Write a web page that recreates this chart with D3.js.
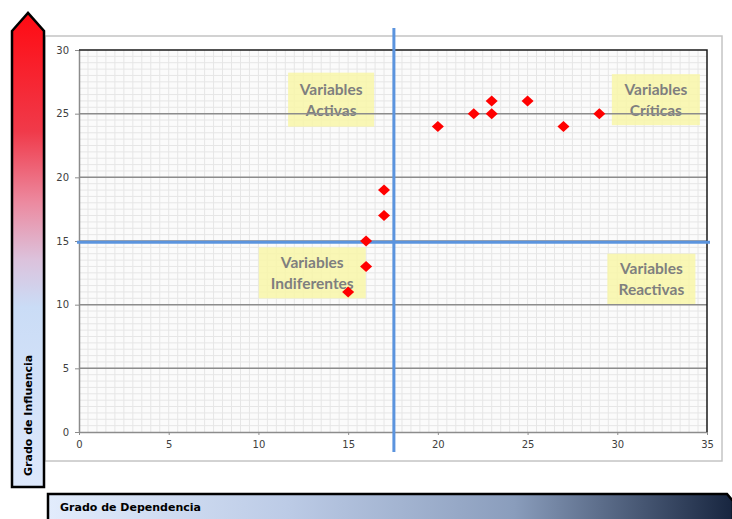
<!DOCTYPE html>
<html>
<head>
<meta charset="utf-8">
<script src="https://cdn.jsdelivr.net/npm/d3@7"></script>
<style>
  body { margin: 0; background: #fff; }
  svg { display: block; }
</style>
</head>
<body>
<div id="chart"></div>
<script>
// datos: grado de dependencia (x) / grado de influencia (y)
var dependencia = [15, 16, 16, 17, 17, 20, 22, 23, 23, 25, 27, 29];
var influencia  = [11, 13, 15, 17, 19, 24, 25, 25, 26, 26, 24, 25];
var xTicks = [0, 5, 10, 15, 20, 25, 30, 35];
var yTicks = [0, 5, 10, 15, 20, 25, 30];
var quadrantNames = [["Variables", "Activas"], ["Variables", "Críticas"],
                     ["Variables", "Indiferentes"], ["Variables", "Reactivas"]];
var cutX = 17.55, cutY = 14.9;

var width = 732, height = 519;
var svg = d3.select("#chart").append("svg")
  .attr("width", width)
  .attr("height", height);

var x = d3.scaleLinear().domain([0, 35]).range([79, 707]);
var y = d3.scaleLinear().domain([0, 30]).range([432, 50]);

var defs = svg.append("defs");
var gv = defs.append("linearGradient").attr("id", "gInf")
  .attr("x1", 0).attr("y1", 0).attr("x2", 0).attr("y2", 1);
gv.append("stop").attr("offset", "0%").attr("stop-color", "#ff0a12");
gv.append("stop").attr("offset", "25%").attr("stop-color", "#f03a4a");
gv.append("stop").attr("offset", "40%").attr("stop-color", "#ec8aa0");
gv.append("stop").attr("offset", "52%").attr("stop-color", "#dcc2dc");
gv.append("stop").attr("offset", "62%").attr("stop-color", "#cadcf6");
gv.append("stop").attr("offset", "100%").attr("stop-color", "#dde8fb");

var gh = defs.append("linearGradient").attr("id", "gDep")
  .attr("x1", 0).attr("y1", 0).attr("x2", 1).attr("y2", 0);
gh.append("stop").attr("offset", "0%").attr("stop-color", "#e2ecfc");
gh.append("stop").attr("offset", "35%").attr("stop-color", "#bccbe6");
gh.append("stop").attr("offset", "68%").attr("stop-color", "#8a9dbc");
gh.append("stop").attr("offset", "100%").attr("stop-color", "#17253f");

// marco exterior
svg.append("rect")
  .attr("x", 45).attr("y", 36).attr("width", 677).attr("height", 425)
  .attr("fill", "none").attr("stroke", "#c4c4c4").attr("stroke-width", 1.5);

// cuadricula menor
var plot = svg.append("g");
plot.append("rect")
  .attr("x", x(0)).attr("y", y(30))
  .attr("width", x(35) - x(0)).attr("height", y(0) - y(30))
  .attr("fill", "#fbfbfb");
plot.selectAll(".mx").data(d3.range(0.5, 35, 0.5)).join("line")
  .attr("x1", d => x(d)).attr("x2", d => x(d))
  .attr("y1", y(30)).attr("y2", y(0))
  .attr("stroke", "#e6e6e6").attr("stroke-width", 1);
plot.selectAll(".my").data(d3.range(0.5, 30, 0.5)).join("line")
  .attr("y1", d => y(d)).attr("y2", d => y(d))
  .attr("x1", x(0)).attr("x2", x(35))
  .attr("stroke", "#e6e6e6").attr("stroke-width", 1);

// cajas de cuadrantes
var boxes = [
  { cx: 14.05, cy: 26.1, w: 86, h: 54 },
  { cx: 32.15, cy: 26.1, w: 88, h: 51 },
  { cx: 13.0, cy: 12.5, w: 107, h: 51 },
  { cx: 31.9, cy: 12.0, w: 88, h: 51 }
];
var bg = plot.selectAll(".qbox").data(quadrantNames).join("g")
  .attr("transform", (d, i) => "translate(" + x(boxes[i].cx) + "," + y(boxes[i].cy) + ")");
bg.append("rect")
  .attr("x", (d, i) => -boxes[i].w / 2).attr("y", (d, i) => -boxes[i].h / 2)
  .attr("width", (d, i) => boxes[i].w).attr("height", (d, i) => boxes[i].h)
  .attr("fill", "#f8f6a8").attr("fill-opacity", 0.85);
bg.selectAll("text").data(d => d).join("text")
  .attr("x", 0).attr("y", (d, i) => i === 0 ? -5 : 16)
  .attr("text-anchor", "middle")
  .attr("font-family", "Lato, 'Open Sans', sans-serif")
  .attr("font-weight", "bold").attr("font-size", 15.5)
  .attr("fill", "#7f7f7f")
  .text(d => d);

// lineas mayores
plot.selectAll(".gy").data(yTicks.filter(d => d > 0 && d < 30)).join("line")
  .attr("y1", d => y(d)).attr("y2", d => y(d))
  .attr("x1", x(0)).attr("x2", x(35))
  .attr("stroke", "#8c8c8c").attr("stroke-width", 1.5);

// ejes
var yAxis = svg.append("g")
  .attr("transform", "translate(" + x(0) + ",0)")
  .call(d3.axisLeft(y).tickValues(yTicks).tickSize(4).tickSizeOuter(0).tickPadding(6));
var xAxis = svg.append("g")
  .attr("transform", "translate(0," + y(0) + ")")
  .call(d3.axisBottom(x).tickValues(xTicks).tickSize(3).tickSizeOuter(0).tickPadding(6));
[yAxis, xAxis].forEach(function (g) {
  g.select(".domain").attr("stroke", "#8c8c8c").attr("stroke-width", 1.5);
  g.selectAll(".tick line").attr("stroke", "#8c8c8c");
  g.selectAll("text").attr("font-family", "'DejaVu Sans', Verdana, sans-serif")
    .attr("font-size", 10).attr("fill", "#404040");
});

// borde superior y derecho
svg.append("path")
  .attr("d", "M" + x(0) + "," + y(30) + "H" + x(35) + "V" + y(0))
  .attr("fill", "none").attr("stroke", "#1a1a1a").attr("stroke-width", 1.5);

// lineas de corte
svg.append("line")
  .attr("x1", x(0) - 2).attr("x2", x(35) + 3)
  .attr("y1", y(cutY)).attr("y2", y(cutY))
  .attr("stroke", "#5b94de").attr("stroke-width", 3);
svg.append("line")
  .attr("x1", x(cutX)).attr("x2", x(cutX))
  .attr("y1", 28).attr("y2", 452)
  .attr("stroke", "#5b94de").attr("stroke-width", 3);

// puntos
var pts = dependencia.map((d, i) => ({ x: d, y: influencia[i] }));
svg.selectAll(".pt").data(pts).join("path")
  .attr("transform", d => "translate(" + x(d.x) + "," + y(d.y) + ")")
  .attr("d", "M0,-5.5L6,0L0,5.5L-6,0Z")
  .attr("fill", "#ff0000");

// flecha de influencia
svg.append("path")
  .attr("d", "M12,31L28,13L44,31L44,487L12,487Z")
  .attr("fill", "url(#gInf)")
  .attr("stroke", "#000").attr("stroke-width", 2.5)
  .attr("stroke-linejoin", "miter");
svg.append("text")
  .attr("transform", "translate(32,476) rotate(-90)")
  .attr("font-family", "'DejaVu Sans', Verdana, sans-serif")
  .attr("font-weight", "bold").attr("font-size", 11)
  .attr("fill", "#000")
  .text("Grado de Influencia");

// barra de dependencia
svg.append("path")
  .attr("d", "M48,522L48,494L727,494L733,501L733,522Z")
  .attr("fill", "url(#gDep)")
  .attr("stroke", "#000").attr("stroke-width", 2.5);
svg.append("text")
  .attr("x", 60).attr("y", 511)
  .attr("font-family", "'DejaVu Sans', Verdana, sans-serif")
  .attr("font-weight", "bold").attr("font-size", 11)
  .attr("fill", "#000")
  .text("Grado de Dependencia");
</script>
</body>
</html>
